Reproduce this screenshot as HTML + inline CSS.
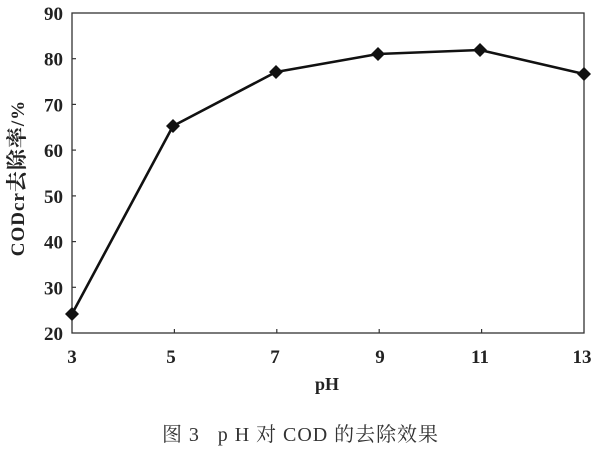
<!DOCTYPE html>
<html>
<head>
<meta charset="utf-8">
<style>
html,body{margin:0;padding:0;background:#fff;}
svg{display:block;}
</style>
</head>
<body>
<svg width="600" height="450" viewBox="0 0 600 450" xmlns="http://www.w3.org/2000/svg">
<rect width="600" height="450" fill="#fff"/>
<!-- plot box -->
<rect x="72" y="13" width="512" height="320" fill="none" stroke="#333" stroke-width="1.3"/>
<!-- ticks -->
<g stroke="#333" stroke-width="1.2">
<line x1="72" y1="58.7" x2="76" y2="58.7"/>
<line x1="72" y1="104.4" x2="76" y2="104.4"/>
<line x1="72" y1="150.1" x2="76" y2="150.1"/>
<line x1="72" y1="195.9" x2="76" y2="195.9"/>
<line x1="72" y1="241.6" x2="76" y2="241.6"/>
<line x1="72" y1="287.3" x2="76" y2="287.3"/>
<line x1="174.4" y1="333" x2="174.4" y2="329"/>
<line x1="276.8" y1="333" x2="276.8" y2="329"/>
<line x1="379.2" y1="333" x2="379.2" y2="329"/>
<line x1="481.6" y1="333" x2="481.6" y2="329"/>
</g>
<!-- y tick labels -->
<g font-family="Liberation Serif, serif" font-weight="bold" font-size="19" fill="#222" text-anchor="end">
<text x="63" y="20">90</text>
<text x="63" y="65.7">80</text>
<text x="63" y="111.4">70</text>
<text x="63" y="157.1">60</text>
<text x="63" y="202.9">50</text>
<text x="63" y="248.6">40</text>
<text x="63" y="294.3">30</text>
<text x="63" y="340">20</text>
</g>
<!-- x tick labels -->
<g font-family="Liberation Serif, serif" font-weight="bold" font-size="19" fill="#222" text-anchor="middle">
<text x="72" y="363">3</text>
<text x="171" y="363">5</text>
<text x="275" y="363">7</text>
<text x="380" y="363">9</text>
<text x="480" y="363">11</text>
<text x="582" y="363">13</text>
</g>
<text x="327" y="390" font-family="Liberation Serif, serif" font-weight="bold" font-size="18" fill="#222" text-anchor="middle">pH</text>
<!-- y axis label -->
<text transform="translate(24,178) rotate(-90)" font-family="Liberation Serif, 'Noto Serif CJK SC', serif" font-weight="bold" font-size="19" fill="#222" text-anchor="middle" letter-spacing="1">CODcr<tspan font-size="21">去除率</tspan>/%</text>
<!-- series -->
<polyline points="72,314 173,126 276,72 378,54 480,50 584,74" fill="none" stroke="#111" stroke-width="2.6" stroke-linejoin="round"/>
<g fill="#111">
<polygon points="72,307 79,314 72,321 65,314"/>
<polygon points="173,119 180,126 173,133 166,126"/>
<polygon points="276,65 283,72 276,79 269,72"/>
<polygon points="378,47 385,54 378,61 371,54"/>
<polygon points="480,43 487,50 480,57 473,50"/>
<polygon points="584,67 591,74 584,81 577,74"/>
</g>
<!-- caption -->
<text x="162" y="441" font-family="Liberation Serif, 'Noto Serif CJK SC', serif" font-size="20" fill="#333" textLength="276" lengthAdjust="spacing" xml:space="preserve">图 3   p H 对 COD 的去除效果</text>
</svg>
</body>
</html>
